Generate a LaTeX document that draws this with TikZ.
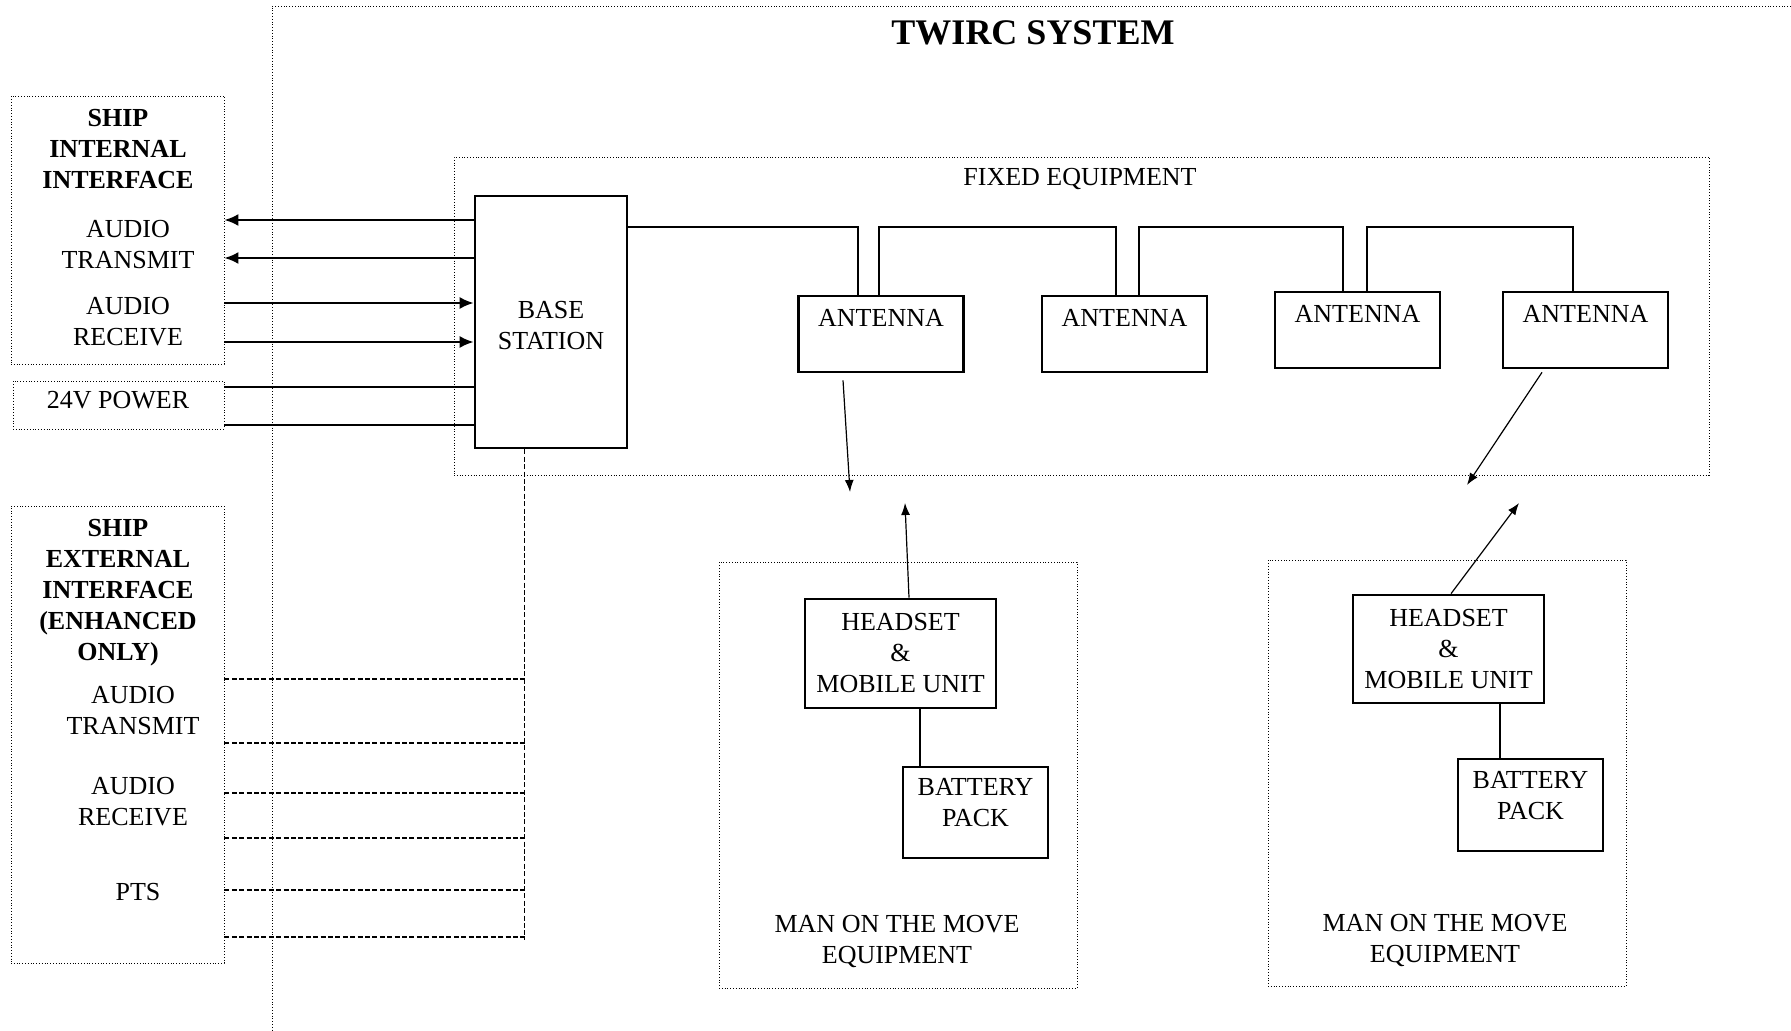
\documentclass[tikz,border=0pt]{standalone}
\usepackage{fontspec}
\setmainfont{Liberation Serif}
\usetikzlibrary{arrows.meta, positioning}

\begin{document}
\begin{tikzpicture}[
  x=0.5pt, y=-0.5pt,
  every node/.style={font=\fontsize{13}{15.5}\selectfont, align=center, inner sep=2pt},
  unit/.style={draw, line width=1.3pt},
  zone/.style={draw, densely dotted, line width=0.4pt},
  hdr/.style={font=\fontsize{13}{15.5}\selectfont\bfseries},
  sig/.style={line width=1.1pt},
  sigarr/.style={sig, -{Latex[length=7pt,width=6pt]}},
  link/.style={line width=0.9pt},
  ext/.style={line width=0.6pt, dash pattern=on 2.5pt off 1.2pt},
  radio/.style={line width=0.6pt, -{Latex[length=6pt,width=4.5pt]}}
]
  \useasboundingbox (0,0) rectangle (1791,1031);
  \clip (0,0) rectangle (1791,1031);

  % system frame
  \node[zone, minimum width=761pt, minimum height=517pt] (twirc) at (1033,523) {};
  \node[font=\fontsize{18}{21}\selectfont\bfseries] (title) at (1033,33) {TWIRC SYSTEM};

  % ship side
  \node[zone, minimum width=106.5pt, minimum height=134pt] (intbox) at (117.5,230) {};
  \node[hdr] (inthdr) at (118,149) {SHIP\\INTERNAL\\INTERFACE};
  \node (inttx) at (128,245) {AUDIO\\TRANSMIT};
  \node (intrx) at (128,322) {AUDIO\\RECEIVE};

  \node[zone, minimum width=105.5pt, minimum height=24pt] (pwrbox) at (118.5,405) {};
  \node (pwrlbl) at (118,400) {24V POWER};

  \node[zone, minimum width=106.5pt, minimum height=228.5pt] (extbox) at (117.5,734.5) {};
  \node[hdr] (exthdr) at (118,593) {SHIP\\EXTERNAL\\INTERFACE\\(ENHANCED\\ONLY)};
  \node (exttx) at (133,710.5) {AUDIO\\TRANSMIT};
  \node (extrx) at (133,801.5) {AUDIO\\RECEIVE};
  \node (extpts) at (138,892) {PTS};

  % fixed equipment
  \node[zone, minimum width=627.5pt, minimum height=159pt] (fixed) at (1081.5,316) {};
  \node (fixedlbl) at (1080,179.5) {FIXED EQUIPMENT};
  \node[unit, minimum width=76pt, minimum height=126pt, text height=27.5pt] (base) at (551,322) {BASE\\STATION};
  \node[unit, minimum width=82.5pt, minimum height=38pt, text depth=16pt] (ant1) at (881,334) {ANTENNA};
  \node[unit, minimum width=82.5pt, minimum height=38pt, text depth=16pt] (ant2) at (1124.5,334) {ANTENNA};
  \node[unit, minimum width=82.5pt, minimum height=38pt, text depth=16pt] (ant3) at (1357.5,330) {ANTENNA};
  \node[unit, minimum width=82.5pt, minimum height=38pt, text depth=16pt] (ant4) at (1585.5,330) {ANTENNA};

  % man on the move
  \node[zone, minimum width=179pt, minimum height=213pt] (motm1) at (898,775) {};
  \node (motm1lbl) at (897,941) {MAN ON THE MOVE\\EQUIPMENT};
  \node[unit, minimum width=95.5pt, minimum height=54.5pt] (hs1) at (900.5,653.5) {HEADSET\\\&\\MOBILE UNIT};
  \node[unit, minimum width=72.5pt, minimum height=45.5pt, text depth=10pt] (bat1) at (975.5,812.5) {BATTERY\\PACK};

  \node[zone, minimum width=179pt, minimum height=213pt] (motm2) at (1447,773) {};
  \node (motm2lbl) at (1445,940) {MAN ON THE MOVE\\EQUIPMENT};
  \node[unit, minimum width=95.5pt, minimum height=54pt] (hs2) at (1448.5,649) {HEADSET\\\&\\MOBILE UNIT};
  \node[unit, minimum width=72.5pt, minimum height=46pt, text depth=10pt] (bat2) at (1530.5,805) {BATTERY\\PACK};

  % antenna bus
  \coordinate (bus) at (0,227);
  \coordinate (a1l) at ([xshift=-11.5pt]ant1.north);
  \coordinate (a1r) at ([xshift=-1pt]ant1.north);
  \coordinate (a2l) at ([xshift=-4.25pt]ant2.north);
  \coordinate (a2r) at ([xshift=7.25pt]ant2.north);
  \coordinate (a3l) at ([xshift=-7.25pt]ant3.north);
  \coordinate (a3r) at ([xshift=4.75pt]ant3.north);
  \coordinate (a4l) at ([xshift=-6.25pt]ant4.north);
  \draw[sig] (base.east |- bus) -| (a1l);
  \draw[sig] (a1r) -- (a1r |- bus) -| (a2l);
  \draw[sig] (a2r) -- (a2r |- bus) -| (a3l);
  \draw[sig] (a3r) -- (a3r |- bus) -| (a4l);

  % ship internal wiring
  \foreach \y in {220,258}
    \draw[sigarr] (base.west |- 0,\y) -- (intbox.east |- 0,\y);
  \foreach \y in {303,342}
    \draw[sigarr] (intbox.east |- 0,\y) -- (base.west |- 0,\y);
  \foreach \y in {387,425}
    \draw[sig] (pwrbox.east |- 0,\y) -- (base.west |- 0,\y);

  % ship external wiring
  \coordinate (tap) at ([xshift=-13.25pt]base.south);
  \draw[ext] (tap) -- (tap |- 0,940);
  \foreach \y in {679,743,793,838,890,937}
    \draw[ext] (extbox.east |- 0,\y) -- (tap |- 0,\y);

  % headset to battery
  \coordinate (h1b) at ([xshift=9.75pt]hs1.south);
  \coordinate (h2b) at ([xshift=25.75pt]hs2.south);
  \draw[link] (h1b) -- (h1b |- bat1.north);
  \draw[link] (h2b) -- (h2b |- bat2.north);

  % radio links
  \coordinate (rx1) at (850,492);
  \coordinate (tx1) at (905,503);
  \coordinate (rx2) at (1467,485);
  \coordinate (tx2) at (1519,503);
  \draw[radio] ([xshift=-19pt,yshift=-3.5pt]ant1.south) -- (rx1);
  \draw[radio] ([xshift=4.25pt]hs1.north) -- (tx1);
  \draw[radio] ([xshift=-21.75pt,yshift=-1.5pt]ant4.south) -- (rx2);
  \draw[radio] ([xshift=1.25pt]hs2.north) -- (tx2);
\end{tikzpicture}
\end{document}
